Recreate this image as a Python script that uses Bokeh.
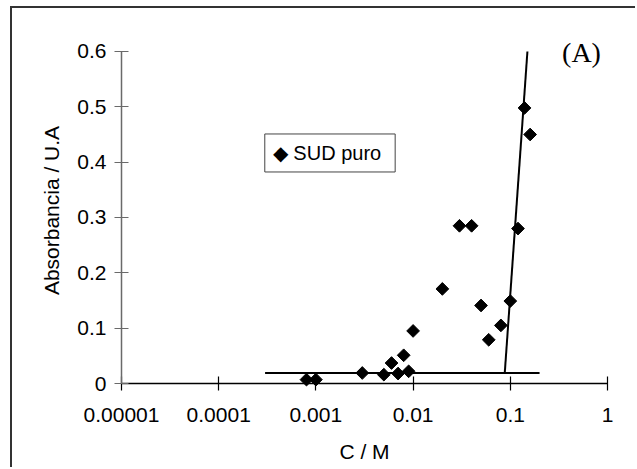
from bokeh.plotting import figure
from bokeh.models import FixedTicker, Label
from bokeh.embed import file_html
from bokeh.resources import INLINE
import numpy as np

# data
conc = [0.0008, 0.001, 0.003, 0.005, 0.006, 0.007, 0.008, 0.009, 0.01, 0.02,
        0.03, 0.04, 0.05, 0.06, 0.08, 0.1, 0.12, 0.14, 0.16]
absorb = [0.007, 0.007, 0.019, 0.016, 0.037, 0.018, 0.051, 0.022, 0.095, 0.171,
          0.285, 0.285, 0.141, 0.079, 0.105, 0.149, 0.28, 0.498, 0.45]
flat_x = [0.0003, 0.2]
flat_y = [0.019, 0.019]
steep_x = [0.0877, 0.15]
steep_y = [0.019, 0.6]
x_ticks = [0.00001, 0.0001, 0.001, 0.01, 0.1, 1]
x_labels = ["0.00001", "0.0001", "0.001", "0.01", "0.1", "1"]
y_ticks = [0, 0.1, 0.2, 0.3, 0.4, 0.5, 0.6]
y_labels = ["0", "0.1", "0.2", "0.3", "0.4", "0.5", "0.6"]
series_name = "SUD puro"
panel_tag = "(A)"

FONT = "Liberation Sans"

p = figure(width=625, height=461, x_axis_type="log",
           x_range=(1e-5, 1), y_range=(0, 0.6253),
           output_backend="svg", toolbar_location=None,
           min_border_left=109, min_border_right=30,
           min_border_top=29, min_border_bottom=86)
p.margin = (6, 0, 0, 10)
p.styles = {"border-left": "2px solid #333333", "border-top": "2px solid #333333"}
p.outline_line_color = None
p.grid.visible = False
p.background_fill_color = "white"
p.border_fill_color = "white"

p.line(flat_x, flat_y, line_color="black", line_width=2, level="overlay")
p.line(steep_x, steep_y, line_color="black", line_width=2, level="overlay")
r = p.scatter(conc, absorb, marker="square", angle=np.pi / 4, size=9,
              fill_color="black", line_color="black", level="overlay")

xa = p.xaxis[0]
xa.ticker = FixedTicker(ticks=x_ticks, minor_ticks=[])
xa.major_label_overrides = dict(zip(x_ticks, x_labels))
xa.axis_label = "C / M"
ya = p.yaxis[0]
ya.bounds = (0, 0.6)
ya.ticker = FixedTicker(ticks=y_ticks, minor_ticks=[])
ya.major_label_overrides = dict(zip(y_ticks, y_labels))
ya.axis_label = "Absorbancia / U.A"

for ax, col in ((xa, "black"), (ya, "#6a6a6a")):
    ax.axis_line_color = col
    ax.axis_line_width = 1.5
    ax.major_tick_line_color = col
    ax.major_tick_line_width = 1.2
    ax.major_tick_in = 7
    ax.major_tick_out = 7
    ax.minor_tick_line_color = None
    ax.major_label_text_font = FONT
    ax.major_label_text_font_size = "21px"
    ax.major_label_text_color = "black"
    ax.axis_label_text_font = FONT
    ax.axis_label_text_font_size = "21px"
    ax.axis_label_text_font_style = "normal"
    ax.axis_label_text_color = "black"
xa.major_label_standoff = 17
xa.axis_label_standoff = 15
ya.major_label_standoff = 8
ya.axis_label_standoff = 11

# legend box
p.add_layout(Label(x=2.98e-4, y=0.4166, text="\u25C6 " + series_name,
                   text_align="left", text_baseline="middle",
                   text_font=FONT, text_font_size="20px", text_color="black",
                   border_line_color="#444444", border_line_width=1,
                   background_fill_color="white", padding=(8, 14, 8, 8)))

p.add_layout(Label(x=0.54, y=0.598, text=panel_tag, text_align="center",
                   text_baseline="alphabetic", text_font="Liberation Serif",
                   text_font_size="28px", text_color="black"))

open("out.html", "w").write(file_html(p, INLINE))
